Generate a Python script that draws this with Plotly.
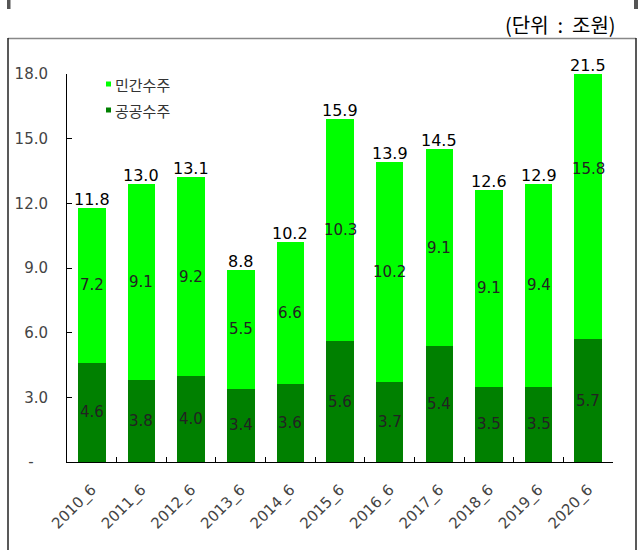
import plotly.graph_objects as go

# Construction orders, June figures (unit: trillion won)
periods = ["2010_6", "2011_6", "2012_6", "2013_6", "2014_6", "2015_6",
           "2016_6", "2017_6", "2018_6", "2019_6", "2020_6"]
public_orders = [4.6, 3.8, 4.0, 3.4, 3.6, 5.6, 3.7, 5.4, 3.5, 3.5, 5.7]
private_orders = [7.2, 9.1, 9.2, 5.5, 6.6, 10.3, 10.2, 9.1, 9.1, 9.4, 15.8]
total_orders = [11.8, 13.0, 13.1, 8.8, 10.2, 15.9, 13.9, 14.5, 12.6, 12.9, 21.5]

y_tick_values = [0, 3, 6, 9, 12, 15, 18]
y_tick_labels = ["-\u00a0\u00a0\u00a0", "3.0", "6.0", "9.0", "12.0", "15.0", "18.0"]

LIGHT = "#00FF00"
DARK = "#008000"
NUM_FONT = "DejaVu Sans, Noto Sans CJK KR, sans-serif"
KR_FONT = "Noto Sans CJK KR, sans-serif"

W, H = 638, 550
ML, MR, MT, MB = 67, 25, 74, 88
Y_MAX = 18

fig = go.Figure()
fig.add_trace(go.Bar(x=periods, y=public_orders, name="공공수주",
                     marker=dict(color=DARK, line=dict(width=0))))
fig.add_trace(go.Bar(x=periods, y=private_orders, name="민간수주",
                     marker=dict(color=LIGHT, line=dict(width=0))))

annotations = []
for p, pub, priv, tot in zip(periods, public_orders, private_orders, total_orders):
    # value inside each segment
    annotations.append(dict(x=p, y=pub / 2, text=f"{pub:.1f}", showarrow=False,
                            xref="x", yref="y",
                            font=dict(family=NUM_FONT, size=15, color="#222")))
    annotations.append(dict(x=p, y=pub + priv / 2, text=f"{priv:.1f}", showarrow=False,
                            xref="x", yref="y",
                            font=dict(family=NUM_FONT, size=15, color="#222")))
    # total above the stack (kept inside the visible range)
    annotations.append(dict(x=p, y=min(pub + priv, Y_MAX), text=f"{tot:.1f}",
                            showarrow=False, xref="x", yref="y",
                            yanchor="bottom", yshift=-3,
                            font=dict(family=NUM_FONT, size=16, color="#000")))

plot_w = W - ML - MR
plot_h = H - MT - MB


def px_x(px):
    return (px - ML) / plot_w


def px_y(py):
    return (H - MB - py) / plot_h


# unit caption
annotations.append(dict(x=px_x(618), y=px_y(24), xref="paper", yref="paper",
                        xanchor="right", yanchor="middle", showarrow=False,
                        text="(단위\u00a0\u00a0:\u00a0\u00a0조원)",
                        font=dict(family=KR_FONT, size=20, color="#000")))

# legend entries
legend_rows = [("민간수주", LIGHT, 84), ("공공수주", DARK, 110)]
shapes = []
for label, color, cy in legend_rows:
    shapes.append(dict(type="rect", xref="paper", yref="paper",
                       x0=px_x(106), x1=px_x(111), y0=px_y(cy + 2.5), y1=px_y(cy - 2.5),
                       fillcolor=color, line=dict(width=0)))
    annotations.append(dict(x=px_x(113), y=px_y(cy), xref="paper", yref="paper",
                            xanchor="left", yanchor="middle", showarrow=False,
                            text=label,
                            font=dict(family=KR_FONT, size=15, color="#333")))

# outer frame
shapes.append(dict(type="line", xref="paper", yref="paper",
                   x0=px_x(8), x1=px_x(636), y0=px_y(38.5), y1=px_y(38.5),
                   line=dict(color="#888", width=1.5)))
shapes.append(dict(type="line", xref="paper", yref="paper",
                   x0=px_x(8), x1=px_x(8), y0=px_y(38), y1=px_y(560),
                   line=dict(color="#222", width=1.5)))
shapes.append(dict(type="line", xref="paper", yref="paper",
                   x0=px_x(636), x1=px_x(636), y0=px_y(38), y1=px_y(560),
                   line=dict(color="#222", width=1.5)))
# small marks at the very top edge
for x0, x1 in [(7, 10.5), (634, 638)]:
    shapes.append(dict(type="rect", xref="paper", yref="paper",
                       x0=px_x(x0), x1=px_x(x1), y0=px_y(9), y1=px_y(0),
                       fillcolor="#555", line=dict(width=0)))

fig.update_layout(
    width=W, height=H,
    margin=dict(l=ML, r=MR, t=MT, b=MB),
    barmode="stack",
    bargap=0.445,
    showlegend=False,
    plot_bgcolor="white",
    paper_bgcolor="white",
    annotations=annotations,
    shapes=shapes,
    xaxis=dict(
        type="category",
        showline=True, linecolor="#000", linewidth=1,
        ticks="inside", ticklen=5, tickcolor="#000", tickson="boundaries",
        tickangle=-45,
        tickfont=dict(family=NUM_FONT, size=15, color="#444"),
        ticklabelstandoff=12,
        showgrid=False, zeroline=False,
    ),
    yaxis=dict(
        range=[0, Y_MAX],
        tickvals=y_tick_values, ticktext=y_tick_labels,
        showline=True, linecolor="#000", linewidth=1,
        ticks="inside", ticklen=5, tickcolor="#000",
        tickfont=dict(family=NUM_FONT, size=15, color="#444"),
        ticklabelstandoff=15,
        showgrid=False, zeroline=False,
    ),
)

fig.write_html("out.html")
